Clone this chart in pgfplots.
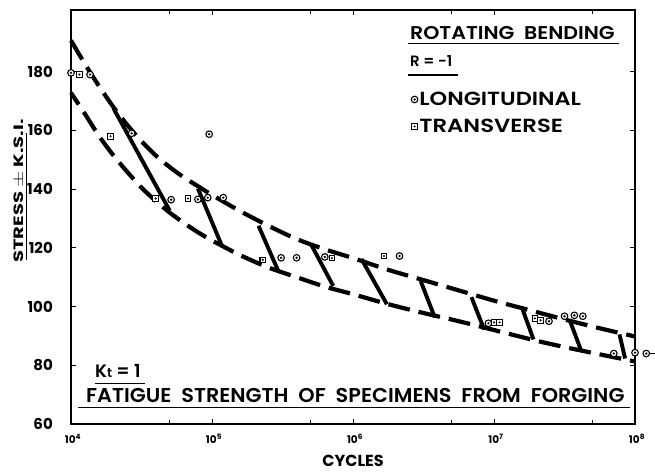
\documentclass[border=0pt]{standalone}
\usepackage{fontspec}
\setmainfont{Poppins}
\newfontfamily\semib{Poppins SemiBold}
\usepackage{pgfplots}
\usepackage{pgfplotstable}
\pgfplotsset{compat=1.18}

\pgfdeclareplotmark{cdot}{%
  \pgfpathcircle{\pgfpointorigin}{\pgfplotmarksize}%
  \pgfsetfillcolor{white}\pgfusepathqfillstroke
  \pgfpathcircle{\pgfpointorigin}{0.4\pgfplotmarksize}%
  \pgfsetfillcolor{black}\pgfusepathqfill}
\pgfdeclareplotmark{sdot}{%
  \pgfpathrectangle{\pgfpoint{-0.85\pgfplotmarksize}{-0.85\pgfplotmarksize}}{\pgfpoint{1.7\pgfplotmarksize}{1.7\pgfplotmarksize}}%
  \pgfsetfillcolor{white}\pgfusepathqfillstroke
  \pgfpathcircle{\pgfpointorigin}{0.35\pgfplotmarksize}%
  \pgfsetfillcolor{black}\pgfusepathqfill}

\pgfplotstableread{
x y
1e4 190.6
12589 182.5
15849 175
19953 168
25119 161.8
31623 156.3
39811 151.5
50119 147.5
63096 144
79433 141
1e5 138
158489 132.5
251189 127.5
398107 123
630957 119.5
1e6 116.5
1778279 112.5
3162278 109
5623413 105.5
1e7 102
17782794 98.8
31622777 95.6
56234133 92.6
1e8 89.8
}\uppercurve

\pgfplotstableread{
x y
1e4 172.8
12589 165.5
15849 158
19953 151.5
25119 145.8
31623 140.5
39811 136
50119 132
63096 128.5
79433 125.3
1e5 122.5
158489 117.5
251189 113.3
398107 110
630957 106.8
1e6 104.2
1778279 100.8
3162278 97.8
5623413 95
1e7 92
22387211 87.8
44668359 84.7
1e8 81.3
}\lowercurve

\pgfplotstableread{
x y
1e4 179.6
13646 179
26915 159
95499 158.7
51286 136.4
79433 136.5
93325 137.1
120226 137.1
309030 116.6
398107 116.6
630957 116.9
2137962 117.2
9120108 94.3
24547089 95.0
31622777 96.7
37153523 97.0
42657952 96.7
70794578 84.0
1e8 84.3
120226443 84.0
}\longidata

\pgfplotstableread{
x y
11482 179
19055 158
39811 136.8
67608 136.8
229087 115.9
707946 116.5
1659587 117.2
1e7 94.6
10964782 94.6
19498446 96.0
21379621 95.3
}\transdata

\begin{document}
\begin{tikzpicture}
\useasboundingbox (0,0) rectangle (655bp,473bp);
\begin{axis}[
  at={(71bp,49bp)}, anchor=south west,
  scale only axis, width=564bp, height=414bp,
  xmode=log, xmin=1e4, xmax=1e8, ymin=60, ymax=201,
  clip=false,
  axis line style={line width=1.6bp},
  xtick={1e4,1e5,1e6,1e7,1e8},
  xticklabels={10\textsuperscript{4},10\textsuperscript{5},10\textsuperscript{6},10\textsuperscript{7},10\textsuperscript{8}},
  minor xtick={5e4,5e5,5e6,5e7},
  ytick={60,80,...,180},
  tick align=inside,
  major tick length=5bp, minor tick length=4bp,
  every tick/.style={line width=1bp, black},
  /pgf/number format/assume math mode=true,
  yticklabel style={font=\fontsize{15bp}{15bp}\selectfont\bfseries, inner sep=0pt, xshift=-18bp},
  xticklabel style={font=\fontsize{10.5bp}{10.5bp}\selectfont\bfseries, inner sep=0pt, yshift=-10bp, xshift=2bp},
  legend style={at={(axis description cs:0.603,0.806)}, anchor=north west, draw=none, fill=none,
    font=\fontsize{19bp}{19bp}\selectfont\semib, inner sep=0pt, row sep=9bp,
    nodes={inner sep=1.5bp}},
  legend cell align=left,
  legend image code/.code={\draw[mark repeat=2,mark phase=2,#1] plot coordinates {(0bp,0bp)(4bp,0bp)(15bp,0bp)};},
]
\addplot[forget plot, black, line width=4.2bp, dash pattern=on 22bp off 9bp, smooth] table {\uppercurve};
\addplot[forget plot, black, line width=4.2bp, dash pattern=on 22bp off 9bp, dash phase=8bp, smooth] table {\lowercurve};
\addplot[forget plot, black, line width=3.9bp] coordinates {(19953,167.6) (50119,132.7)};
\addplot[forget plot, black, line width=3.9bp] coordinates {(79433,140.2) (117490,120.7)};
\addplot[forget plot, black, line width=3.9bp] coordinates {(213796,127.5) (295121,112.1)};
\addplot[forget plot, black, line width=3.9bp] coordinates {(501187,121.4) (724436,107)};
\addplot[forget plot, black, line width=3.9bp] coordinates {(1148154,116.2) (1737801,100.8)};
\addplot[forget plot, black, line width=3.9bp] coordinates {(3019952,108.7) (3801894,96.3)};
\addplot[forget plot, black, line width=3.9bp] coordinates {(6918310,103.2) (8511380,92.2)};
\addplot[forget plot, black, line width=3.9bp] coordinates {(15848932,99.4) (19054607,88.8)};
\addplot[forget plot, black, line width=3.9bp] coordinates {(34673685,95) (41686938,84.7)};
\addplot[forget plot, black, line width=3.9bp] coordinates {(77624712,90.5) (85113804,82.3)};
\addplot[forget plot, black, line width=1.3bp] coordinates {(1.2e8,84) (1.43e8,84)};
\addplot[only marks, mark=cdot, mark size=3.3bp, mark options={line width=1.1bp}] table {\longidata};
\addlegendentry{\scalebox{1.18}[1]{LONGITUDINAL}}
\addplot[only marks, mark=sdot, mark size=3.3bp, mark options={line width=1.1bp}] table {\transdata};
\addlegendentry{\scalebox{1.2}[1]{TRANSVERSE}}
\end{axis}
% annotations (bp = reference pixels, y measured from the bottom)
\node[anchor=base west, inner sep=0pt, font=\fontsize{18.5bp}{18.5bp}\selectfont\semib] at (410bp,433bp) {\scalebox{1.11}[1]{ROTATING\ \ BENDING}};
\draw[line width=0.7bp] (408bp,430bp) -- (619bp,430bp);
\node[anchor=base west, inner sep=0pt, font=\fontsize{15bp}{15bp}\selectfont\semib] at (410bp,406bp) {R = -1};
\draw[line width=1.1bp] (408bp,398bp) -- (458bp,398bp);
\node[anchor=base west, inner sep=0pt, font=\fontsize{18bp}{18bp}\selectfont\semib] at (95bp,95bp) {K{\fontsize{13bp}{13bp}\selectfont t} = 1};
\draw[line width=0.8bp] (95bp,90bp) -- (145bp,90bp);
\node[anchor=base west, inner sep=0pt, font=\fontsize{20bp}{20bp}\selectfont\semib] at (86bp,70bp) {\scalebox{1.04}[1]{FATIGUE\ \ STRENGTH\ \ OF\ \ SPECIMENS\ \ FROM\ \ FORGING}};
\draw[line width=0.7bp] (78bp,66bp) -- (630bp,66bp);
\node[rotate=90, anchor=base, inner sep=0pt, font=\fontsize{13.5bp}{13.5bp}\selectfont\bfseries] at (23bp,282bp) {\scalebox{1.45}[1]{STRESS $\pm$ K.S.I.}};
\draw[line width=0.8bp] (26bp,213bp) -- (26bp,340bp);
\node[anchor=base, inner sep=0pt, font=\fontsize{16bp}{16bp}\selectfont\bfseries] at (353bp,7bp) {CYCLES};
\end{tikzpicture}
\end{document}
